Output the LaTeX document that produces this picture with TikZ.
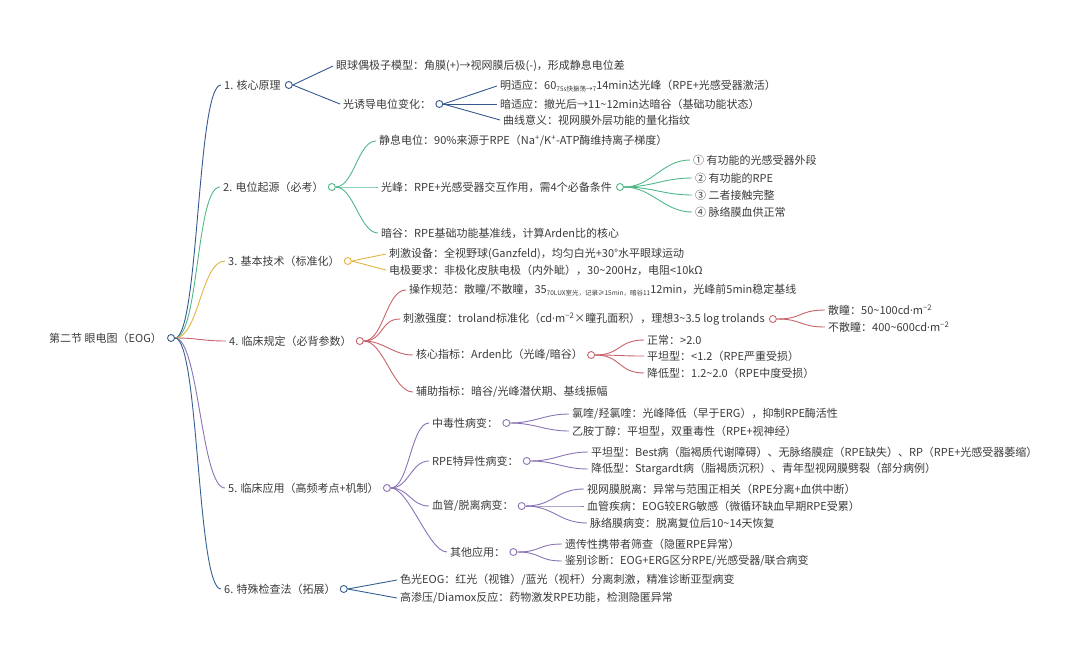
\documentclass[tikz,border=0pt]{standalone}
\usepackage{fontspec}
\setmainfont{Noto Sans CJK SC}
\newfontfamily\dotfont{Noto Sans}
\usepackage{xcolor}
\usepackage{tikz}
\usetikzlibrary{positioning}
\definecolor{InkGray}{HTML}{3A3A3A}
\definecolor{CoreBlue}{HTML}{35598F}
\definecolor{OriginGreen}{HTML}{52B788}
\definecolor{TechGold}{HTML}{E3B341}
\definecolor{RuleRed}{HTML}{C8636B}
\definecolor{UsePurple}{HTML}{8B73B5}
\definecolor{ExtraBlue}{HTML}{34608F}
\newcommand{\tld}{\textasciitilde{}}
\newcommand{\cdt}{{\dotfont ·}}
\newcommand{\lowtxt}[1]{\raisebox{-0.35ex}{\fontsize{6.5}{7}\selectfont #1}}

\begin{document}
\begin{tikzpicture}[x=1pt, y=-1pt,
  txt/.style={anchor=west, inner xsep=3pt, inner ysep=1pt, text=InkGray,
    font=\fontsize{11}{12}\selectfont},
  dot/.style={circle, draw=#1, fill=white, line width=0.9pt, inner sep=0pt,
    minimum size=7pt},
  edge/.style={draw=#1, line width=0.9pt},
  twig/.style={to path={.. controls +(#1,0) and +(-#1,0) .. (\tikztotarget)}},
  twig/.default=22
]
  \useasboundingbox (0,0) rectangle (1080,646);

  % root
  \node[txt] (rt) at (46,338) {第二节 眼电图（EOG）};
  \node[dot=CoreBlue, right=2pt of rt] (rtd) {};

  % first level
  \node[txt] (n1) at (221,85) {1. 核心原理};
  \node[dot=CoreBlue, right=1pt of n1] (d1) {};
  \node[txt] (n2) at (220,187) {2. 电位起源（必考）};
  \node[dot=OriginGreen, right=1pt of n2] (d2) {};
  \node[txt] (n3) at (225,261) {3. 基本技术（标准化）};
  \node[dot=TechGold, right=1pt of n3] (d3) {};
  \node[txt] (n4) at (226,341) {4. 临床规定（必背参数）};
  \node[dot=RuleRed, right=1pt of n4] (d4) {};
  \node[txt] (n5) at (225,488) {5. 临床应用（高频考点+机制）};
  \node[dot=UsePurple, right=1pt of n5] (d5) {};
  \node[txt] (n6) at (221,589) {6. 特殊检查法（拓展）};
  \node[dot=ExtraBlue, right=1pt of n6] (d6) {};

  \draw[edge=CoreBlue] (rtd.east) to[twig=24] (n1.west);
  \draw[edge=OriginGreen] (rtd.east) to[twig=24] (n2.west);
  \draw[edge=TechGold] (rtd.east) to[twig=24] (n3.west);
  \draw[edge=RuleRed] (rtd.east) to[twig=24] (n4.west);
  \draw[edge=UsePurple] (rtd.east) to[twig=24] (n5.west);
  \draw[edge=ExtraBlue] (rtd.east) to[twig=24] (n6.west);

  % 1. core principle
  \node[txt] (n11) at (333,66) {眼球偶极子模型：角膜(+)→视网膜后极(-)，形成静息电位差};
  \node[txt] (n12) at (340,104) {光诱导电位变化：};
  \node[dot=CoreBlue, right=1pt of n12] (d12) {};
  \node[txt] (n121) at (497,86) {明适应：60\lowtxt{75s快振荡→7}14min达光峰（RPE+光感受器激活）};
  \node[txt] (n122) at (497,104) {暗适应：撤光后→11\tld12min达暗谷（基础功能状态）};
  \node[txt] (n123) at (500,120) {曲线意义：视网膜外层功能的量化指纹};
  \draw[edge=CoreBlue] (d1.east) to (n11.west);
  \draw[edge=CoreBlue] (d1.east) to (n12.west);
  \draw[edge=CoreBlue] (d12.east) to (n121.west);
  \draw[edge=CoreBlue] (d12.east) to (n122.west);
  \draw[edge=CoreBlue] (d12.east) to (n123.west);

  % 2. origin
  \node[txt] (n21) at (376,141) {静息电位：90\%来源于RPE（Na\textsuperscript{+}/K\textsuperscript{+}-ATP酶维持离子梯度）};
  \node[txt] (n22) at (378,187) {光峰：RPE+光感受器交互作用，需4个必备条件};
  \node[dot=OriginGreen, right=1pt of n22] (d22) {};
  \node[txt] (n221) at (690,160) {① 有功能的光感受器外段};
  \node[txt] (n222) at (692,178) {② 有功能的RPE};
  \node[txt] (n223) at (692,195) {③ 二者接触完整};
  \node[txt] (n224) at (692,212) {④ 脉络膜血供正常};
  \node[txt] (n23) at (378,233) {暗谷：RPE基础功能基准线，计算Arden比的核心};
  \draw[edge=OriginGreen] (d2.east) to[twig=18] (n21.west);
  \draw[edge=OriginGreen] (d2.east) to[twig=18] (n22.west);
  \draw[edge=OriginGreen] (d2.east) to[twig=18] (n23.west);
  \draw[edge=OriginGreen] (d22.east) to[twig=28] (n221.west);
  \draw[edge=OriginGreen] (d22.east) to[twig=28] (n222.west);
  \draw[edge=OriginGreen] (d22.east) to[twig=28] (n223.west);
  \draw[edge=OriginGreen] (d22.east) to[twig=28] (n224.west);

  % 3. technique
  \node[txt] (n31) at (386,254) {刺激设备：全视野球(Ganzfeld)，均匀白光+30°水平眼球运动};
  \node[txt] (n32) at (386,270) {电极要求：非极化皮肤电极（内外眦），30\tld200Hz，电阻<10kΩ};
  \draw[edge=TechGold] (d3.east) to (n31.west);
  \draw[edge=TechGold] (d3.east) to (n32.west);

  % 4. clinical rules
  \node[txt] (n41) at (406,290) {操作规范：散瞳/不散瞳，35\lowtxt{70LUX室光，记录≥15min，暗谷11}12min，光峰前5min稳定基线};
  \node[txt] (n42) at (400,319) {刺激强度：troland标准化（cd\cdt m\textsuperscript{−2}×瞳孔面积），理想3\tld3.5 log trolands};
  \node[dot=RuleRed, right=1pt of n42] (d42) {};
  \node[txt] (n421) at (825,310) {散瞳：50\tld100cd\cdt m\textsuperscript{−2}};
  \node[txt] (n422) at (825,327) {不散瞳：400\tld600cd\cdt m\textsuperscript{−2}};
  \node[txt] (n43) at (413,355) {核心指标：Arden比（光峰/暗谷）};
  \node[dot=RuleRed, right=1pt of n43] (d43) {};
  \node[txt] (n431) at (644,340) {正常：>2.0};
  \node[txt] (n432) at (644,356) {平坦型：<1.2（RPE严重受损）};
  \node[txt] (n433) at (644,373) {降低型：1.2\tld2.0（RPE中度受损）};
  \node[txt] (n44) at (413,392) {辅助指标：暗谷/光峰潜伏期、基线振幅};
  \draw[edge=RuleRed] (d4.east) to[twig=20] (n41.west);
  \draw[edge=RuleRed] (d4.east) to[twig=20] (n42.west);
  \draw[edge=RuleRed] (d4.east) to[twig=20] (n43.west);
  \draw[edge=RuleRed] (d4.east) to[twig=20] (n44.west);
  \draw[edge=RuleRed] (d42.east) to[twig=26] (n421.west);
  \draw[edge=RuleRed] (d42.east) to[twig=26] (n422.west);
  \draw[edge=RuleRed] (d43.east) to[twig=26] (n431.west);
  \draw[edge=RuleRed] (d43.east) to[twig=26] (n432.west);
  \draw[edge=RuleRed] (d43.east) to[twig=26] (n433.west);

  % 5. clinical use
  \node[txt] (n51) at (429,423) {中毒性病变：};
  \node[dot=UsePurple, right=1pt of n51] (d51) {};
  \node[txt] (n511) at (569,414) {氯喹/羟氯喹：光峰降低（早于ERG），抑制RPE酶活性};
  \node[txt] (n512) at (569,431) {乙胺丁醇：平坦型，双重毒性（RPE+视神经）};
  \node[txt] (n52) at (429,461) {RPE特异性病变：};
  \node[dot=UsePurple, right=1pt of n52] (d52) {};
  \node[txt] (n521) at (588,452) {平坦型：Best病（脂褐质代谢障碍）、无脉络膜症（RPE缺失）、RP（RPE+光感受器萎缩）};
  \node[txt] (n522) at (588,469) {降低型：Stargardt病（脂褐质沉积）、青年型视网膜劈裂（部分病例）};
  \node[txt] (n53) at (429,506) {血管/脱离病变：};
  \node[dot=UsePurple, right=1pt of n53] (d53) {};
  \node[txt] (n531) at (584,489) {视网膜脱离：异常与范围正相关（RPE分离+血供中断）};
  \node[txt] (n532) at (584,506) {血管疾病：EOG较ERG敏感（微循环缺血早期RPE受累）};
  \node[txt] (n533) at (587,523) {脉络膜病变：脱离复位后10\tld14天恢复};
  \node[txt] (n54) at (447,552) {其他应用：};
  \node[dot=UsePurple, right=1pt of n54] (d54) {};
  \node[txt] (n541) at (562,544) {遗传性携带者筛查（隐匿RPE异常）};
  \node[txt] (n542) at (562,561) {鉴别诊断：EOG+ERG区分RPE/光感受器/联合病变};
  \draw[edge=UsePurple] (d5.east) to[twig=18] (n51.west);
  \draw[edge=UsePurple] (d5.east) to[twig=18] (n52.west);
  \draw[edge=UsePurple] (d5.east) to[twig=18] (n53.west);
  \draw[edge=UsePurple] (d5.east) to[twig=18] (n54.west);
  \draw[edge=UsePurple] (d51.east) to[twig=24] (n511.west);
  \draw[edge=UsePurple] (d51.east) to[twig=24] (n512.west);
  \draw[edge=UsePurple] (d52.east) to[twig=24] (n521.west);
  \draw[edge=UsePurple] (d52.east) to[twig=24] (n522.west);
  \draw[edge=UsePurple] (d53.east) to[twig=28] (n531.west);
  \draw[edge=UsePurple] (d53.east) to[twig=28] (n532.west);
  \draw[edge=UsePurple] (d53.east) to[twig=28] (n533.west);
  \draw[edge=UsePurple] (d54.east) to[twig=24] (n541.west);
  \draw[edge=UsePurple] (d54.east) to[twig=24] (n542.west);

  % 6. special tests
  \node[txt] (n61) at (397,580) {色光EOG：红光（视锥）/蓝光（视杆）分离刺激，精准诊断亚型病变};
  \node[txt] (n62) at (397,598) {高渗压/Diamox反应：药物激发RPE功能，检测隐匿异常};
  \draw[edge=ExtraBlue] (d6.east) to (n61.west);
  \draw[edge=ExtraBlue] (d6.east) to (n62.west);

\end{tikzpicture}
\end{document}
